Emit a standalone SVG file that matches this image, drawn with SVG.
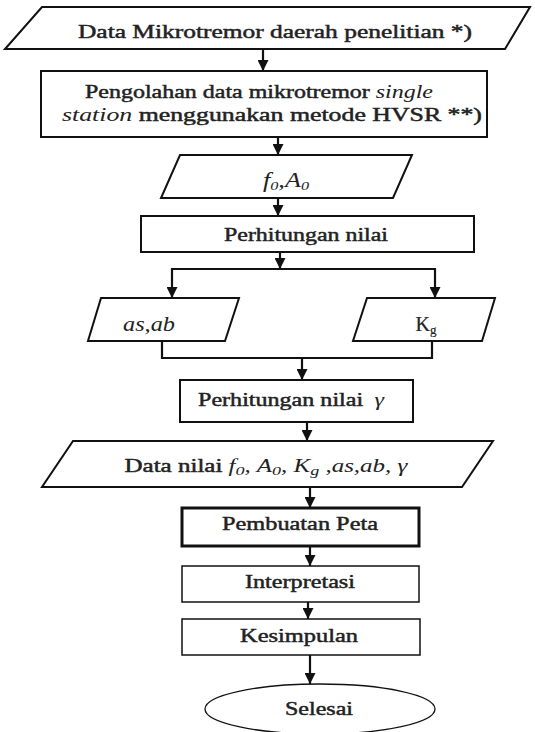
<svg xmlns="http://www.w3.org/2000/svg" width="535" height="732" viewBox="0 0 535 732">
<style>
.shape{fill:#fff;stroke:#111;stroke-width:2}
.thick{stroke-width:3}
.thin{stroke-width:1.5}
.t{font-family:"Liberation Serif","Times New Roman",serif;font-size:18px;font-weight:normal;fill:#222;stroke:#222;stroke-width:0.45;text-anchor:middle}
.i{font-style:italic;stroke-width:0}
.sub{font-size:13px}
.conn{fill:none;stroke:#111;stroke-width:2.2}
</style>
<defs>
<marker id="ah" viewBox="0 0 10 10" markerWidth="11" markerHeight="11" refX="10" refY="5" orient="auto" markerUnits="userSpaceOnUse">
<path d="M0,0 L10,5 L0,10 z" fill="#111"/>
</marker>
</defs>
<rect width="535" height="732" fill="#fff"/>
<g id="connectors">
<line class="conn" x1="263" y1="49" x2="263" y2="71" marker-end="url(#ah)"/>
<line class="conn" x1="278" y1="137" x2="278" y2="155" marker-end="url(#ah)"/>
<line class="conn" x1="278" y1="198" x2="278" y2="216" marker-end="url(#ah)"/>
<line class="conn" x1="280" y1="252" x2="280" y2="269" marker-end="url(#ah)"/>
<line class="conn" x1="171" y1="269" x2="436" y2="269"/>
<line class="conn" x1="172" y1="268" x2="172" y2="298" marker-end="url(#ah)"/>
<line class="conn" x1="435" y1="268" x2="435" y2="298" marker-end="url(#ah)"/>
<line class="conn" x1="162" y1="341" x2="162" y2="359"/>
<line class="conn" x1="432" y1="341" x2="432" y2="359"/>
<line class="conn" x1="162" y1="358" x2="432" y2="358"/>
<line class="conn" x1="302" y1="358" x2="302" y2="380" marker-end="url(#ah)"/>
<line class="conn" x1="307" y1="422" x2="307" y2="441" marker-end="url(#ah)"/>
<line class="conn" x1="310" y1="487" x2="310" y2="508" marker-end="url(#ah)"/>
<line class="conn" x1="310" y1="546" x2="310" y2="566" marker-end="url(#ah)"/>
<line class="conn" x1="308" y1="602" x2="308" y2="619" marker-end="url(#ah)"/>
<line class="conn" x1="310" y1="655" x2="310" y2="684" marker-end="url(#ah)"/>
</g>
<g id="n1">
<polygon class="shape" points="42,7 530,7 505,49 5,49"/>
<text class="t" x="275" y="38" textLength="394" lengthAdjust="spacingAndGlyphs">Data Mikrotremor daerah penelitian *)</text>
</g>
<g id="n2">
<rect class="shape" x="41" y="71" width="446" height="66"/>
<text class="t" x="259" y="98" textLength="348" lengthAdjust="spacingAndGlyphs">Pengolahan data mikrotremor <tspan class="i">single</tspan></text>
<text class="t" x="272" y="121" textLength="420" lengthAdjust="spacingAndGlyphs"><tspan class="i">station</tspan> menggunakan metode HVSR **)</text>
</g>
<g id="n3">
<polygon class="shape" points="180,155 412,155 393,198 161,198"/>
<text class="t i" x="286" y="187" style="font-size:21px" textLength="46" lengthAdjust="spacingAndGlyphs">f<tspan class="sub" dy="3">0</tspan><tspan dy="-3">,A</tspan><tspan class="sub" dy="3">0</tspan></text>
</g>
<g id="n4">
<rect class="shape" x="141" y="216" width="333" height="36"/>
<text class="t" x="306" y="241" textLength="164" lengthAdjust="spacingAndGlyphs">Perhitungan nilai</text>
</g>
<g id="n5">
<polygon class="shape" points="101,298 239,298 225,341 88,341"/>
<text class="t i" x="149" y="331" style="font-size:20px" textLength="52" lengthAdjust="spacingAndGlyphs">as,ab</text>
</g>
<g id="n6">
<polygon class="shape" points="367,298 495,298 482,341 353,341"/>
<text class="t" x="426" y="331" style="stroke-width:0.2;font-size:20px">K<tspan class="sub" dy="3">g</tspan></text>
</g>
<g id="n7">
<rect class="shape" x="180" y="380" width="233" height="42"/>
<text class="t" x="291" y="406" textLength="186" lengthAdjust="spacingAndGlyphs">Perhitungan nilai <tspan class="i" dx="4">γ</tspan></text>
</g>
<g id="n8">
<polygon class="shape" points="73,441 493,441 462,487 42,487"/>
<text class="t" x="266" y="472" textLength="283" lengthAdjust="spacingAndGlyphs">Data nilai <tspan class="i">f<tspan class="sub" dy="3">0</tspan><tspan dy="-3">, A</tspan><tspan class="sub" dy="3">0</tspan><tspan dy="-3">,  K</tspan><tspan class="sub" dy="3">g</tspan><tspan dy="-3"> ,as,ab,  γ</tspan></tspan></text>
</g>
<g id="n9">
<rect class="shape thick" x="182" y="508" width="237" height="38"/>
<text class="t" x="300" y="530" textLength="156" lengthAdjust="spacingAndGlyphs">Pembuatan Peta</text>
</g>
<g id="n10">
<rect class="shape thin" x="182" y="566" width="237" height="36"/>
<text class="t" x="300" y="588" textLength="110" lengthAdjust="spacingAndGlyphs">Interpretasi</text>
</g>
<g id="n11">
<rect class="shape thin" x="182" y="619" width="238" height="36"/>
<text class="t" x="299" y="642" textLength="118" lengthAdjust="spacingAndGlyphs">Kesimpulan</text>
</g>
<g id="n12">
<ellipse class="shape" cx="320" cy="709" rx="115" ry="25" style="stroke-width:1.3"/>
<text class="t" x="319" y="715" textLength="68" lengthAdjust="spacingAndGlyphs">Selesai</text>
</g>
</svg>
